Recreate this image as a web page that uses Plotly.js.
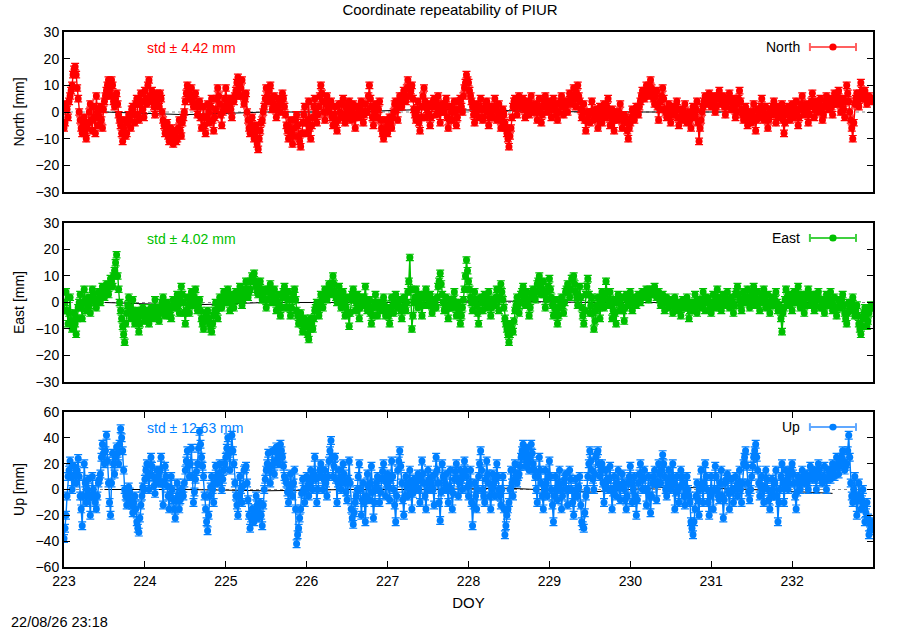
<!DOCTYPE html>
<html>
<head>
<meta charset="utf-8">
<script src="https://cdn.plot.ly/plotly-3.0.1.min.js"></script>
<style>html,body{margin:0;padding:0;background:#fff}#chart{width:900px;height:630px}</style>
</head>
<body>
<div id="chart"></div>
<script>
// ---- data (DOY start, sampling step in days, values in mm) ----
// "A" arrays: samples at doyStart + i*doyStep ; "B" arrays: samples half a step later
const doyStart = 223;
const doyStep = 0.025;
const doyTicks = [223, 224, 225, 226, 227, 228, 229, 230, 231, 232];

const northA = [
 -6,3,-2,6,10,16,14,5,-3,-8,-2,-10,-4,3,-7,-2,6,-5,2,-6,4,8,12,6,10,2,7,-1,-5,-11,-3,-8,-1,-6,2,-4,5,-3,7,1,
 8,3,12,4,6,-1,7,2,5,-3,-8,-4,-11,-6,-12,-7,-10,-3,-9,-2,4,10,6,9,2,7,-1,4,-6,2,-8,3,-4,5,-7,1,9,3,-5,2,
 9,1,5,-2,4,8,13,6,12,3,7,-3,-8,-2,-10,-5,-14,-7,-3,2,9,4,10,1,6,-2,5,0,7,2,-5,-10,-3,-12,-6,-1,-9,-13,-4,2,
 -8,4,-10,-2,5,-4,2,10,4,-3,6,0,4,-5,2,-7,3,-2,5,-4,1,4,-3,3,-6,2,-2,4,-4,3,0,10,2,-5,3,-2,4,-6,-10,-3,
 -8,-2,-6,0,4,-3,6,2,8,4,12,6,10,1,-3,4,-7,2,9,-2,3,-5,2,5,-1,6,-4,3,0,5,-6,2,-3,4,-5,1,5,0,9,14,
 11,6,2,-4,3,-2,5,-3,1,4,-5,2,-2,5,-3,3,-6,1,-4,-8,-13,-6,2,5,-1,6,2,5,-2,4,-1,6,0,3,-3,5,-4,2,6,0,
 4,-2,5,1,-3,3,6,-1,4,0,7,3,9,2,10,4,-2,3,-7,0,-4,4,-3,1,-6,2,-4,3,-2,5,-5,1,-7,0,-3,3,-6,-1,-4,-10,
 -4,1,-3,2,-1,4,8,5,10,6,12,7,3,8,-3,4,9,1,-2,3,-4,2,-1,4,-5,1,-3,3,-4,0,-6,2,-2,4,-11,-3,2,6,3,7,
 2,6,0,5,8,3,6,-1,4,7,1,5,-2,3,8,1,-3,2,-5,0,-4,3,-7,1,-2,5,-3,2,-6,1,-1,4,-4,2,-2,3,-8,-1,2,-3,
 3,-2,4,-5,1,6,-1,3,-4,2,7,-2,4,0,5,-3,2,6,1,5,-1,7,3,8,0,5,-2,10,4,-3,-10,3,7,2,11,5,8,3,6,4
];
const northB = [
 -4,1,4,8,14,17,9,0,-6,-4,-8,-6,0,-3,2,-8,0,-2,-3,1,6,10,8,12,4,5,3,-3,-8,-6,-9,-4,-3,1,-1,3,-1,3,4,-2,
 5,10,6,8,2,4,5,7,0,-5,-6,-9,-8,-10,-9,-11,-6,-7,-4,0,7,8,5,4,6,3,2,-2,-2,-5,-2,0,2,-3,-2,5,6,-1,0,5,
 4,3,1,5,6,11,10,9,6,5,0,-6,-5,-7,-8,-12,-10,-4,0,5,6,8,5,3,1,2,4,3,5,-1,-7,-6,-8,-9,-3,-5,-11,-8,-1,-4,
 -3,-6,-5,2,0,-1,6,7,0,3,2,3,-2,-1,-4,-3,0,3,-1,-2,3,-1,1,-2,-1,0,2,0,-1,0,6,5,-2,0,1,1,-3,-8,-7,-6,
 -5,-4,-2,3,1,2,4,6,6,9,9,8,5,-1,1,-4,-2,6,4,1,-1,-2,4,2,3,1,0,2,3,-2,-3,0,1,0,-2,4,2,6,11,12,
 8,4,-1,0,1,2,1,-2,3,0,-2,0,2,1,0,-2,-3,-1,-6,-10,-9,-2,4,2,3,4,3,1,2,1,3,2,1,0,2,0,-1,4,3,2,
 1,2,3,-1,0,4,2,2,3,4,5,6,5,7,6,1,0,-3,-3,-1,0,0,-1,-2,-2,-1,0,1,2,0,-2,-3,-2,-1,0,-2,-3,-2,-7,-6,
 -2,-1,0,1,2,6,6,8,8,10,9,5,6,2,1,6,5,0,1,-1,-1,1,2,-2,-2,-1,0,-1,-2,-3,-2,0,1,-4,-6,0,4,5,5,4,
 4,3,2,6,5,4,2,2,5,4,3,1,0,5,4,-1,0,-2,-2,-2,0,-2,-3,0,2,1,-1,-2,-3,0,2,0,-1,0,1,-3,-4,1,0,0,
 1,1,0,-2,3,2,1,0,-1,4,3,1,2,3,1,-1,4,3,3,2,3,5,6,4,3,1,4,7,0,-6,-4,5,4,7,8,6,5,5,5,5
];
const eastA = [
 -3,4,-8,2,-10,-4,-12,-2,3,-6,5,-3,2,-4,5,1,-2,4,0,6,2,7,3,9,6,12,18,5,-3,-9,-15,-4,2,-6,1,-8,-3,-11,-5,-2,
 -7,-3,-8,-2,-6,1,-4,-7,-2,2,-5,0,-3,-6,1,-2,3,-4,6,0,-8,2,-4,4,-1,5,-3,1,-6,-10,-4,-3,-8,-11,-5,0,-6,2,-2,4,
 0,5,-3,3,-2,4,1,6,-1,3,8,2,5,10,11,6,3,8,1,5,-2,4,7,0,5,-3,3,-5,2,6,-2,4,-5,1,5,-3,-8,-4,-11,-6,
 -9,-14,-6,-10,-3,0,-5,3,-2,5,1,7,3,10,4,0,6,-2,4,-5,2,-9,1,5,-3,3,-6,2,-1,6,-3,1,-8,-2,3,-5,0,-3,2,-5,
 -2,-8,2,-4,3,-2,1,-6,2,-3,4,17,-10,0,5,-2,3,-5,2,5,-1,3,-4,1,-2,6,11,3,-3,2,-6,1,-2,4,-5,0,-8,-2,5,16,
 8,2,-3,4,-1,-8,2,-3,3,-2,4,-5,1,-1,5,-3,7,1,-6,-10,-15,-8,-11,-3,2,-4,3,6,-1,4,-5,2,5,1,7,10,3,8,-2,4,
 9,2,-5,1,-8,-2,2,-4,4,7,2,9,10,4,-1,6,-2,-8,3,9,-4,2,-10,-3,2,-6,4,-2,8,-1,4,-6,1,-8,3,-3,2,-7,3,-1,
 4,-3,2,-1,3,0,4,2,5,1,5,3,6,2,4,-1,3,-3,2,-2,1,-4,2,-3,0,-5,1,-2,2,-6,0,-3,3,-4,1,-2,4,-3,2,0,
 -4,3,-2,5,0,-3,3,-1,4,-2,2,-4,3,6,1,-3,4,0,5,-2,3,6,-1,4,-3,2,5,-2,3,-4,2,-1,4,-3,-3,-11,-2,5,-1,3,
 -3,4,0,6,-2,3,-4,2,5,-1,3,-3,2,4,-2,1,-4,3,-1,4,-3,2,-5,1,-2,3,-4,-8,0,-3,2,-5,-1,-8,-12,-6,-2,-9,-4,-1
];
const eastB = [
 0,-3,-4,-7,-7,-8,-6,0,-2,0,1,-1,-1,1,3,0,1,2,3,4,5,5,6,8,10,15,10,0,-6,-12,-8,-1,-2,-3,-4,-5,-7,-8,-3,-5,
 -5,-6,-5,-4,-2,-2,-5,-4,0,-2,-3,-1,-5,-2,0,1,-1,1,3,-4,-3,-1,0,2,2,1,-1,-3,-8,-7,-5,-6,-10,-8,-3,-3,-2,-1,0,2,
 3,1,0,1,1,3,4,2,1,5,5,4,8,9,8,4,6,4,3,1,1,5,3,2,1,0,-1,-2,4,2,1,-2,-2,3,1,-5,-6,-8,-9,-8,
 -12,-10,-8,-6,-2,-3,-1,1,2,3,4,5,7,7,2,3,2,1,0,-2,-4,-4,3,1,0,-2,-2,0,2,1,-1,-4,-5,0,-1,-2,-1,0,-1,-3,
 -5,-3,-1,0,0,-1,-3,-2,-1,0,8,5,-5,2,1,0,-1,-1,3,2,1,-1,-2,0,2,8,7,0,-1,-2,-2,0,1,0,-2,-4,-5,1,10,12,
 5,0,0,1,-4,-3,0,0,0,1,-1,-2,0,2,1,2,4,-2,-8,-12,-12,-10,-7,-1,-1,0,4,2,1,0,-2,3,3,4,8,6,5,3,1,6,
 5,-1,-2,-4,-5,0,-1,0,5,4,5,9,7,2,2,2,-5,-3,6,3,-1,-4,-7,-1,-2,0,1,3,4,1,-1,-3,-4,0,0,-1,-3,-2,1,1,
 0,0,0,1,1,2,3,3,3,3,4,4,4,3,1,1,0,0,0,-1,-1,-1,0,-1,-2,-2,-1,0,-2,-3,-1,0,-1,-1,-1,1,0,0,1,-2,
 -1,0,1,2,-2,0,1,1,1,0,0,-1,4,3,-1,0,2,2,1,0,4,2,1,0,0,3,1,0,-1,-1,0,1,0,-1,-6,-4,1,2,1,0,
 0,2,3,2,0,0,-1,3,2,1,0,-1,3,1,-1,-2,0,1,1,0,-1,-2,-2,0,1,-1,-6,-4,-2,0,-2,-3,-5,-10,-9,-4,-5,-7,-2,-2
];
const upA = [
 -38,-20,10,22,0,18,5,24,-5,-28,20,-10,8,-20,10,-5,-15,5,12,35,20,42,5,-20,28,12,33,20,47,30,0,-12,2,-8,-18,-5,-25,-33,-12,2,
 8,20,0,25,10,-3,15,5,25,-12,18,3,-15,10,-8,-22,5,-15,0,-5,15,30,10,32,-10,8,20,45,25,10,-15,-32,-5,10,-10,18,5,20,0,15,
 25,40,15,42,20,-5,-20,10,-10,15,18,-8,-30,-15,-25,-5,-22,-10,-28,0,15,28,5,30,12,33,20,35,25,10,5,-10,12,-5,15,-42,-30,-15,8,-10,
 10,-5,15,0,25,-10,10,20,0,15,-5,22,38,10,25,-10,15,0,20,5,-8,22,-15,-27,-10,0,20,-20,5,-25,12,-8,18,-22,0,10,-10,8,20,-5,
 12,-8,22,0,-25,15,30,5,-20,10,-5,15,-15,8,0,12,-10,22,5,-15,15,0,10,-12,25,5,-24,20,0,12,-10,15,-15,8,20,-5,15,0,22,10,
 -5,15,-28,5,-15,10,30,0,-10,22,5,-15,12,-5,20,0,-12,10,-35,-20,-10,15,-5,20,5,12,25,35,18,32,15,35,20,10,-10,25,5,-15,15,-5,
 22,0,-25,10,-8,15,-15,5,12,-12,15,0,-20,8,-5,10,-25,-30,-5,10,30,15,0,25,30,10,20,-10,15,0,18,-15,10,-5,15,-8,12,0,-15,5,
 18,-10,10,-20,5,20,0,15,-12,10,-18,5,15,-8,20,5,27,10,-5,15,0,20,-15,10,-10,15,5,-12,10,-5,-25,-35,-15,5,-20,15,-10,20,0,-20,
 10,-15,18,0,-8,15,-22,5,12,-15,8,-10,10,-5,15,-10,20,30,5,-8,10,25,35,15,-5,10,-10,15,0,-15,8,-5,15,-25,0,20,-10,15,0,12,
 20,5,-15,10,0,15,5,12,0,18,8,15,0,20,10,5,18,0,15,8,20,10,25,12,22,30,15,20,42,5,-10,10,-20,5,-15,0,-25,-10,-35,-30
];
const upB = [
 -30,-5,15,10,10,12,15,10,-15,-5,5,0,-5,-5,0,-10,-5,8,25,28,30,22,-10,5,20,25,28,35,40,15,-5,-5,-2,-12,-10,-15,-30,-22,-5,0,
 15,10,12,18,3,6,10,15,5,5,10,-5,-3,0,-15,-8,-5,-8,-2,5,22,20,20,10,-2,14,32,35,18,-5,-25,-20,2,0,5,10,12,10,8,20,
 32,28,30,30,5,-12,-5,0,3,16,5,-20,-22,-20,-15,-12,-18,-20,-12,8,20,15,18,20,22,28,25,30,18,8,-2,0,3,5,-15,-35,-22,-3,0,0,
 3,5,8,12,8,0,15,10,8,5,10,30,25,18,8,5,8,10,12,-2,8,5,-22,-18,-5,10,0,-8,-10,-5,2,5,-2,-10,5,0,-2,14,8,5,
 2,8,10,-12,-5,22,18,-8,-5,2,5,0,-3,5,6,0,8,12,-5,0,8,5,0,12,15,-10,-2,10,5,0,2,0,-3,14,8,5,8,12,15,2,
 5,-10,-12,-5,0,20,15,-5,8,12,-5,0,5,8,10,-5,0,-15,-28,-15,0,5,8,12,10,18,30,25,28,22,25,28,15,0,10,15,-5,0,5,10,
 10,-12,-5,0,5,0,-5,8,0,0,8,-10,-5,0,2,-12,-28,-18,0,20,22,8,12,28,20,15,5,2,8,8,0,-2,2,5,3,2,5,-8,-5,10,
 5,0,-5,-8,12,10,8,0,0,-5,-5,10,5,5,12,15,20,0,5,8,10,5,-2,0,2,10,-5,0,0,-10,-30,-25,-5,-8,0,2,5,10,-10,-5,
 -2,0,10,-5,5,-5,-8,8,-2,-2,0,0,2,5,0,5,25,18,-2,0,18,30,25,5,2,0,2,8,-8,-5,0,5,-5,-10,10,5,2,8,5,15,
 12,-5,-2,5,8,10,8,5,10,12,12,8,10,15,8,10,8,8,12,15,15,18,18,18,25,22,18,30,25,-5,0,-5,-8,-5,-8,-12,-18,-22,-32,-25
];
// daily-mean reference line (black), read near zero
const refDoy = [223.5, 224.5, 225.5, 226.5, 227.5, 228.5, 229.5, 230.5, 231.5, 232.5];
const refNorth = [0, -1, 0, 0, 1, 0.5, 0, 0, 0, 0];
const refEast = [0, -1, 0, 0, 0, 0.5, 0, 0, 0, 0];
const refUp = [0, 0, -1, 0, 0, 1, -2, 2, 0, -3];

const errNorth = 1.2, errEast = 1.2, errUp = 3;
const stdNorth = 4.42, stdEast = 4.02, stdUp = 12.63;

// ---- build ----
function merge(a, b) {
  const x = [], y = [];
  for (let i = 0; i < a.length; i++) {
    x.push(doyStart + i * doyStep); y.push(a[i]);
    if (i < b.length) { x.push(doyStart + (i + 0.5) * doyStep); y.push(b[i]); }
  }
  return {x, y};
}
const cRed = '#ff0000', cGreen = '#00c000', cBlue = '#0080ff';
const font = 'Liberation Sans, Arial, sans-serif';

function series(a, b, color, err, xa, ya) {
  const m = merge(a, b);
  return {
    x: m.x, y: m.y, xaxis: xa, yaxis: ya, type: 'scatter', mode: 'lines+markers',
    line: {color: color, width: 1.4},
    marker: {color: color, size: 7, symbol: 'circle'},
    error_y: {type: 'constant', value: err, color: color, thickness: 1.2, width: 4},
    showlegend: false, hoverinfo: 'x+y'
  };
}
function ref(y, xa, ya) {
  return {x: refDoy, y: y, xaxis: xa, yaxis: ya, type: 'scatter', mode: 'lines',
    line: {color: '#000', width: 1}, showlegend: false, hoverinfo: 'skip'};
}

const data = [
  ref(refNorth, 'x', 'y'), series(northA, northB, cRed, errNorth, 'x', 'y'),
  ref(refEast, 'x2', 'y2'), series(eastA, eastB, cGreen, errEast, 'x2', 'y2'),
  ref(refUp, 'x3', 'y3'), series(upA, upB, cBlue, errUp, 'x3', 'y3')
];

const axCommon = {
  showline: true, linecolor: '#000', linewidth: 2, mirror: true,
  ticks: 'inside', ticklen: 6, tickcolor: '#000', tickwidth: 1,
  showgrid: false, zeroline: false,
  tickfont: {family: font, size: 14, color: '#000'}
};
function xax(showLabels, anchor) {
  return Object.assign({}, axCommon, {
    range: [223, 233], tickvals: doyTicks, ticktext: doyTicks.map(String),
    showticklabels: showLabels, anchor: anchor, domain: [0, 1],
    ticks: showLabels ? 'inside' : '', mirror: showLabels ? 'ticks' : true
  });
}
function yax(range, dtick, domain, title, anchor) {
  return Object.assign({}, axCommon, {
    range: range, dtick: dtick, domain: domain, anchor: anchor, mirror: 'ticks',
    title: {text: title, font: {family: font, size: 14, color: '#000'}, standoff: 8}
  });
}

function legendParts(name, color, lightColor, xa, ya, yPos) {
  const xr = xa + ' domain', yr = ya + ' domain';
  const x0 = 0.922, x1 = 0.979, xm = (x0 + x1) / 2, cap = 0.025;
  return {
    ann: {xref: xr, yref: yr, x: 0.912, y: yPos, xanchor: 'right', yanchor: 'middle',
      text: name, showarrow: false, font: {family: font, size: 14, color: '#000'}},
    shapes: [
      {type: 'line', xref: xr, yref: yr, x0: x0, x1: x1, y0: yPos, y1: yPos, line: {color: lightColor, width: 2}},
      {type: 'line', xref: xr, yref: yr, x0: x0, x1: x0, y0: yPos - cap, y1: yPos + cap, line: {color: lightColor, width: 2}},
      {type: 'line', xref: xr, yref: yr, x0: x1, x1: x1, y0: yPos - cap, y1: yPos + cap, line: {color: lightColor, width: 2}},
      {type: 'circle', xref: xr, yref: yr, x0: xm - 0.0045, x1: xm + 0.0045, y0: yPos - 0.022, y1: yPos + 0.022,
        fillcolor: color, line: {color: color, width: 0}}
    ]
  };
}
function zeroLine(xa, ya) {
  return {type: 'line', xref: xa + ' domain', yref: ya, x0: 0, x1: 1, y0: 0, y1: 0,
    line: {color: '#888', width: 1, dash: 'dot'}, layer: 'below'};
}

const lgN = legendParts('North', cRed, '#ff6060', 'x', 'y', 0.906);
const lgE = legendParts('East', cGreen, '#40d040', 'x2', 'y2', 0.906);
const lgU = legendParts('Up', cBlue, '#60a8ff', 'x3', 'y3', 0.903);

function stdNote(val, color, xa, ya, yPos) {
  return {xref: xa + ' domain', yref: ya + ' domain', x: 0.1, y: yPos, xanchor: 'left', yanchor: 'middle',
    text: 'std \u00b1 ' + val.toFixed(2) + ' mm', showarrow: false, font: {family: font, size: 14, color: color}};
}

const layout = {
  width: 900, height: 630,
  margin: {l: 64, r: 27, t: 32, b: 63},
  paper_bgcolor: '#fff', plot_bgcolor: '#fff',
  font: {family: font, size: 13, color: '#000'},
  title: {text: 'Coordinate repeatability of PIUR', font: {family: font, size: 15, color: '#000'},
    x: 0.5, xanchor: 'center', y: 0.985, yref: 'container', yanchor: 'middle'},
  xaxis: xax(false, 'y'),
  xaxis2: xax(false, 'y2'),
  xaxis3: Object.assign(xax(true, 'y3'), {title: {text: 'DOY', font: {family: font, size: 15, color: '#000'}, standoff: 10}}),
  yaxis: yax([-30, 30], 10, [0.7009, 1], 'North [mm]', 'x'),
  yaxis2: yax([-30, 30], 10, [0.3458, 0.6430], 'East [mm]', 'x2'),
  yaxis3: yax([-60, 60], 20, [0, 0.2897], 'Up [mm]', 'x3'),
  shapes: [zeroLine('x', 'y'), zeroLine('x2', 'y2'), zeroLine('x3', 'y3')]
    .concat(lgN.shapes, lgE.shapes, lgU.shapes),
  annotations: [
    lgN.ann, lgE.ann, lgU.ann,
    stdNote(stdNorth, cRed, 'x', 'y', 0.9),
    stdNote(stdEast, cGreen, 'x2', 'y2', 0.9),
    stdNote(stdUp, cBlue, 'x3', 'y3', 0.897),
    {xref: 'paper', yref: 'paper', x: -0.068, y: -0.103, xanchor: 'left', yanchor: 'middle',
      text: '22/08/26 23:18', showarrow: false, font: {family: font, size: 14.5, color: '#000'}}
  ],
  showlegend: false
};

Plotly.newPlot('chart', data, layout, {staticPlot: true, displayModeBar: false});
</script>
</body>
</html>
